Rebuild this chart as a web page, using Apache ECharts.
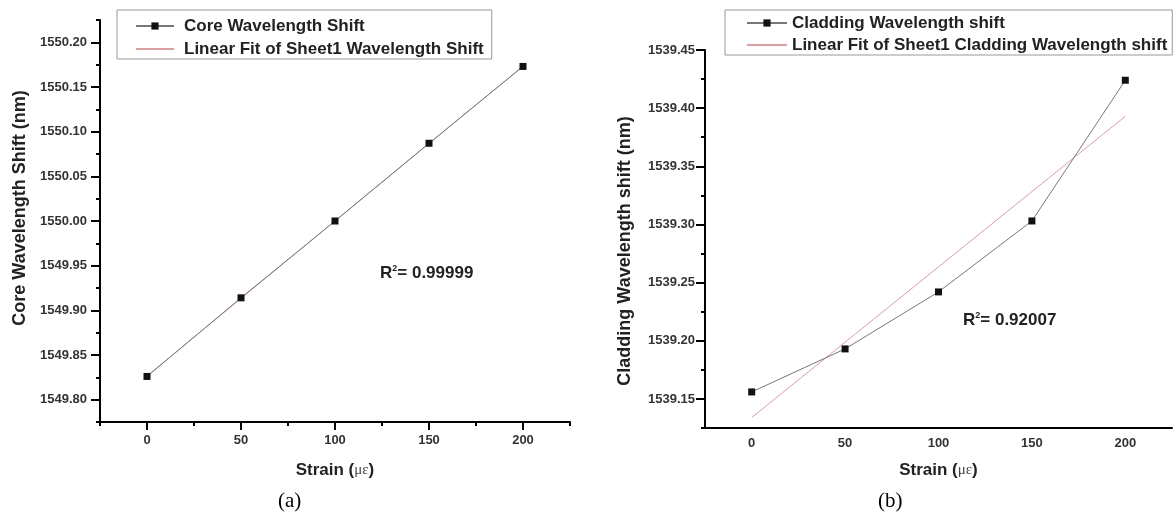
<!DOCTYPE html>
<html>
<head>
<meta charset="utf-8">
<script src="https://cdn.jsdelivr.net/npm/echarts@6/dist/echarts.min.js"></script>
<style>
html, body { margin: 0; padding: 0; background: #fff; }
#main { width: 1176px; height: 517px; }
</style>
</head>
<body>
<div id="main"></div>
<script>
// strain values (micro-strain)
var strain = [0, 50, 100, 150, 200];
var fitX = [0, 200];

// (a) core wavelength shift, nm
var coreShift = [1549.826, 1549.914, 1550.000, 1550.087, 1550.173];
var coreFit = [1549.8266, 1550.1734];

// (b) cladding wavelength shift, nm
var cladShift = [1539.156, 1539.193, 1539.242, 1539.303, 1539.424];
var cladFit = [1539.134, 1539.393];

var xMajor = [0, 50, 100, 150, 200];
var xMinor = [-25, 25, 75, 125, 175, 225];
var coreMajor = [1549.80, 1549.85, 1549.90, 1549.95, 1550.00, 1550.05, 1550.10, 1550.15, 1550.20];
var coreMinor = [1549.775, 1549.825, 1549.875, 1549.925, 1549.975, 1550.025, 1550.075, 1550.125, 1550.175, 1550.225];
var cladMajor = [1539.15, 1539.20, 1539.25, 1539.30, 1539.35, 1539.40, 1539.45];
var cladMinor = [1539.125, 1539.175, 1539.225, 1539.275, 1539.325, 1539.375, 1539.425];

var font = "'Liberation Sans', Arial, sans-serif";
var txt = '#222';

function pairs(xs, ys) {
    var out = [];
    for (var i = 0; i < xs.length; i++) out.push([xs[i], ys[i]]);
    return out;
}

var strainRich = {
    b: { fontFamily: font, fontWeight: 'bold', fontSize: 17, color: txt },
    m: { fontFamily: "'Liberation Serif', serif", fontSize: 15, color: '#444' }
};

var labelStyle = { fontFamily: font, fontWeight: 'bold', fontSize: 13, color: '#333' };

function xAxisPair(grid, margin, withTicks, gap) {
    return [{
        type: 'value', gridIndex: grid, min: -25, max: 225,
        name: '{b|Strain (}{m|με}{b|)}', nameLocation: 'middle', nameGap: gap,
        nameTextStyle: { rich: strainRich },
        axisLine: { onZero: false, lineStyle: { color: '#000', width: 2 } },
        axisTick: { show: withTicks, customValues: xMajor, length: 8, lineStyle: { color: '#000', width: 2 } },
        axisLabel: Object.assign({ customValues: xMajor, margin: margin }, labelStyle),
        splitLine: { show: false }
    }, {
        type: 'value', gridIndex: grid, min: -25, max: 225, position: 'bottom',
        axisLine: { show: false, onZero: false },
        axisTick: { show: withTicks, customValues: xMinor, length: 4, lineStyle: { color: '#000', width: 2 } },
        axisLabel: { show: false },
        splitLine: { show: false }
    }];
}

function yAxisPair(grid, min, max, major, minor, name, margin, gap, namePad) {
    return [{
        type: 'value', gridIndex: grid, min: min, max: max,
        name: name, nameLocation: 'middle', nameGap: gap,
        nameTextStyle: { fontFamily: font, fontWeight: 'bold', fontSize: 18, color: txt, padding: namePad },
        axisLine: { onZero: false, lineStyle: { color: '#000', width: 2 } },
        axisTick: { customValues: major, length: 9, lineStyle: { color: '#000', width: 2 } },
        axisLabel: Object.assign({
            customValues: major, margin: margin,
            formatter: function(v) { return v.toFixed(2); }
        }, labelStyle),
        splitLine: { show: false }
    }, {
        type: 'value', gridIndex: grid, min: min, max: max, position: 'left',
        axisLine: { show: false, onZero: false },
        axisTick: { customValues: minor, length: 4, lineStyle: { color: '#000', width: 2 } },
        axisLabel: { show: false },
        splitLine: { show: false }
    }];
}

function legendBox(left, top, dataName, fitName, width, gap, pad, textPad) {
    return {
        orient: 'vertical', left: left, top: top,
        data: [
            { name: dataName },
            { name: fitName, itemStyle: { opacity: 0 } }
        ],
        itemWidth: width, itemHeight: 9, itemGap: gap,
        padding: pad,
        borderColor: '#999', borderWidth: 1,
        textStyle: { fontFamily: font, fontWeight: 'bold', fontSize: 17, lineHeight: 18, color: txt, padding: [0, 0, 0, textPad] }
    };
}

var r2Rich = {
    r: { fontFamily: font, fontWeight: 'bold', fontSize: 17, fill: txt },
    s: { fontFamily: font, fontWeight: 'bold', fontSize: 9, fill: txt, verticalAlign: 'top', padding: [0, 0, 9, 0] }
};

var option = {
    backgroundColor: '#fff',
    animation: false,
    grid: [
        { left: 100, top: 20, right: 606, bottom: 95 },
        { left: 705, top: 50, right: 4, bottom: 89 }
    ],
    xAxis: xAxisPair(0, 12, true, 40).concat(xAxisPair(1, 9, false, 34)),
    yAxis: yAxisPair(0, 1549.775, 1550.225, coreMajor, coreMinor, 'Core Wavelength Shift (nm)', 13, 71, [0, 0, 0, 26])
        .concat(yAxisPair(1, 1539.125, 1539.45, cladMajor, cladMinor, 'Cladding Wavelength shift (nm)', 10, 71, [0, 24, 0, 0])),
    legend: [
        legendBox(117, 10, 'Core Wavelength Shift', 'Linear Fit of Sheet1 Wavelength Shift', 38, 5, [7, 8, 1, 18], 5),
        legendBox(725, 10, 'Cladding Wavelength shift', 'Linear Fit of Sheet1 Cladding Wavelength shift', 40, 4, [4, 5, 1, 21], 0)
    ],
    series: [{
        name: 'Core Wavelength Shift', type: 'line', xAxisIndex: 0, yAxisIndex: 0,
        data: pairs(strain, coreShift),
        symbol: 'rect', symbolSize: 7,
        itemStyle: { color: '#111' },
        lineStyle: { color: '#777', width: 1 },
        z: 3
    }, {
        name: 'Linear Fit of Sheet1 Wavelength Shift', type: 'line', xAxisIndex: 0, yAxisIndex: 0,
        data: pairs(fitX, coreFit),
        symbol: 'none',
        itemStyle: { color: '#dca0a0' },
        lineStyle: { color: '#d8a0a0', width: 1 },
        z: 2
    }, {
        name: 'Cladding Wavelength shift', type: 'line', xAxisIndex: 2, yAxisIndex: 2,
        data: pairs(strain, cladShift),
        symbol: 'rect', symbolSize: 7,
        itemStyle: { color: '#111' },
        lineStyle: { color: '#777', width: 1 },
        z: 3
    }, {
        name: 'Linear Fit of Sheet1 Cladding Wavelength shift', type: 'line', xAxisIndex: 2, yAxisIndex: 2,
        data: pairs(fitX, cladFit),
        symbol: 'none',
        itemStyle: { color: '#dca0a0' },
        lineStyle: { color: '#d8a0a0', width: 1 },
        z: 2
    }],
    graphic: [{
        type: 'text', left: 380, top: 264,
        style: { text: '{r|R}{s|2}{r|= 0.99999}', rich: r2Rich }
    }, {
        type: 'text', left: 963, top: 311,
        style: { text: '{r|R}{s|2}{r|= 0.92007}', rich: r2Rich }
    }, {
        type: 'text', left: 278, top: 491,
        style: { text: '(a)', fontFamily: "'Liberation Serif', serif", fontSize: 21, fill: '#000' }
    }, {
        type: 'text', left: 878, top: 491,
        style: { text: '(b)', fontFamily: "'Liberation Serif', serif", fontSize: 21, fill: '#000' }
    }]
};

var myChart = echarts.init(document.getElementById('main'));
myChart.setOption(option);
</script>
</body>
</html>
